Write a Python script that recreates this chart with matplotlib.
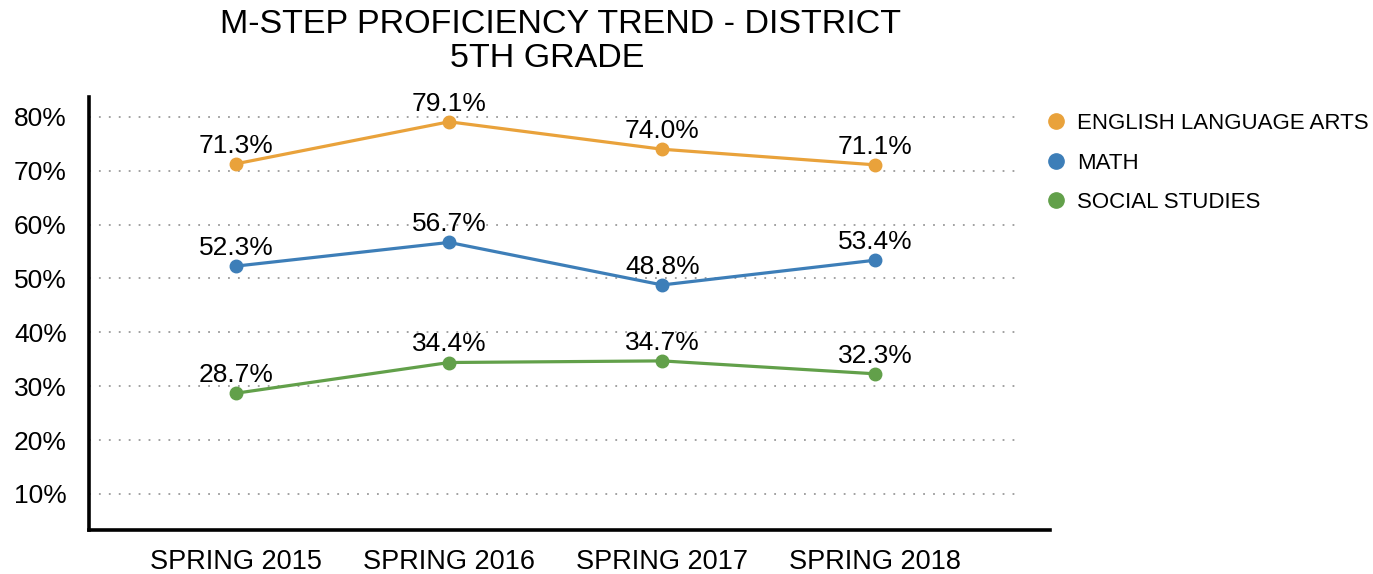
import matplotlib.pyplot as plt

plt.rcParams['font.family'] = ['Liberation Sans', 'DejaVu Sans']

# Data
seasons = ["SPRING 2015", "SPRING 2016", "SPRING 2017", "SPRING 2018"]
ela = [71.3, 79.1, 74.0, 71.1]
math = [52.3, 56.7, 48.8, 53.4]
social = [28.7, 34.4, 34.7, 32.3]
yticks = [10, 20, 30, 40, 50, 60, 70, 80]

series = [
    ("ENGLISH LANGUAGE ARTS", ela, "#E9A23B"),
    ("MATH", math, "#3D7EB8"),
    ("SOCIAL STUDIES", social, "#62A04A"),
]

W, H = 1373, 574
fig = plt.figure(figsize=(W / 100, H / 100), dpi=100)
ax = fig.add_axes([89 / W, 1 - 530 / H, (1050 - 89) / W, (530 - 97) / H])

x = list(range(len(seasons)))

# dotted grid lines, stopping short of the right end of the x axis
for v in yticks:
    ax.axhline(v, xmin=0, xmax=0.964, color="#9a9a9a", lw=1.3,
               linestyle=(0, (1, 4.5)), zorder=0)

for name, vals, col in series:
    ax.plot(x, vals, color=col, lw=2.3, marker="o", markersize=9,
            label=name, zorder=3)
    for xi, v in zip(x, vals):
        ax.annotate(f"{v:.1f}%", (xi, v), xytext=(0, 8),
                    textcoords="offset points", ha="center", va="baseline",
                    fontsize=19)

ax.set_xlim(-0.69, 3.82)
ax.set_ylim(3.3, 83.7)
ax.set_xticks(x)
ax.set_xticklabels(seasons, fontsize=19.5)
ax.set_yticks(yticks)
ax.set_yticklabels([f"{v}%" for v in yticks], fontsize=19)
ax.tick_params(length=0)
ax.tick_params(axis="x", pad=14)
ax.tick_params(axis="y", pad=16)

for s in ["top", "right"]:
    ax.spines[s].set_visible(False)
for s in ["left", "bottom"]:
    ax.spines[s].set_linewidth(2.6)
    ax.spines[s].set_color("black")

# legend with circle markers only
handles = [plt.Line2D([], [], color=c, marker="o", linestyle="none", markersize=11)
           for _, _, c in series]
fig.legend(handles, [n for n, _, _ in series], loc="upper left",
           bbox_to_anchor=(1036 / W, 1 - 104 / H), frameon=False,
           fontsize=16, handletextpad=0.45, labelspacing=0.84,
           borderaxespad=0, handlelength=1.0)

# two-line title
fig.text(561 / W, 1 - 33 / H, "M-STEP PROFICIENCY TREND - DISTRICT",
         ha="center", va="baseline", fontsize=24.5)
fig.text(547 / W, 1 - 67 / H, "5TH GRADE",
         ha="center", va="baseline", fontsize=24.5)

fig.savefig("out.png", dpi=100)
